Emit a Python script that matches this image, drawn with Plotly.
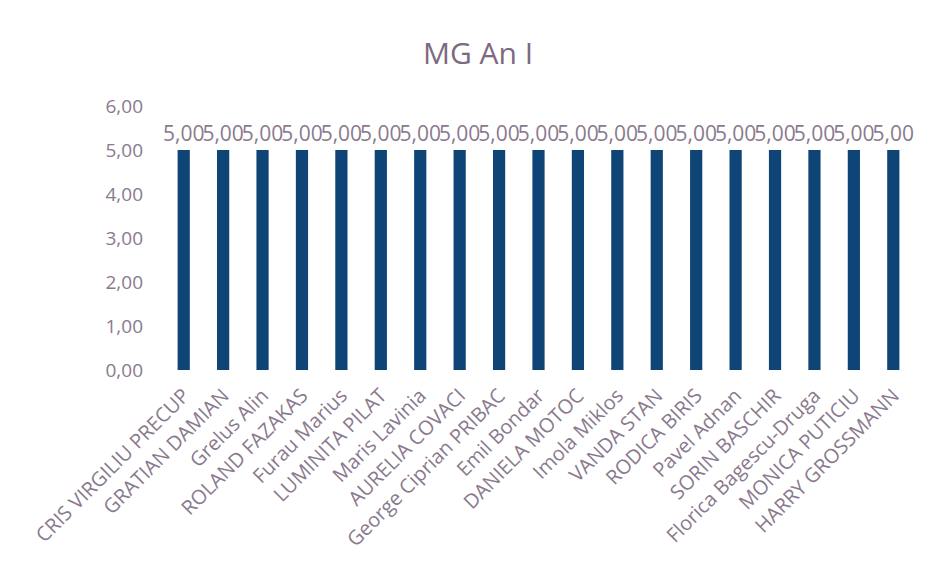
import plotly.graph_objects as go

names = ["CRIS VIRGILIU PRECUP", "GRATIAN DAMIAN", "Grelus Alin", "ROLAND FAZAKAS",
         "Furau Marius", "LUMINITA PILAT", "Maris Lavinia", "AURELIA COVACI",
         "George Ciprian PRIBAC", "Emil Bondar", "DANIELA MOTOC", "Imola Miklos",
         "VANDA STAN", "RODICA BIRIS", "Pavel Adnan", "SORIN BASCHIR",
         "Florica Bagescu-Druga", "MONICA PUTICIU", "HARRY GROSSMANN"]
values = [5.00] * 19
title = "MG An I"
ytick_vals = [0, 1, 2, 3, 4, 5, 6]

txt_color = "#8a7a8e"
font_family = "Open Sans, Noto Sans, sans-serif"

fig = go.Figure(go.Bar(
    x=names, y=values,
    marker=dict(color="#0f4576", line=dict(width=0)),
    texttemplate="%{y:.2f}", textposition="outside",
    textfont=dict(color=txt_color, size=21, family=font_family),
    constraintext="none", cliponaxis=False,
))
fig.update_layout(
    width=926, height=556,
    separators=",.",
    paper_bgcolor="white", plot_bgcolor="white",
    margin=dict(l=156, r=21, t=98, b=194),
    title=dict(text=title, x=0.5076, xanchor="center", y=0.919, yanchor="middle",
               font=dict(size=30, color="#7c6a7f", family=font_family)),
    bargap=0.69,
    showlegend=False,
    xaxis=dict(tickangle=-45, showgrid=False, showline=False, ticks="",
               ticklabelstandoff=9,
               tickfont=dict(size=20, color=txt_color, family=font_family)),
    yaxis=dict(range=[0, 6], tickvals=ytick_vals, tickformat=".2f",
               showgrid=False, zeroline=False, showline=False, ticks="",
               ticklabelstandoff=20,
               tickfont=dict(size=19, color=txt_color, family=font_family)),
)
fig.write_html("out.html")
